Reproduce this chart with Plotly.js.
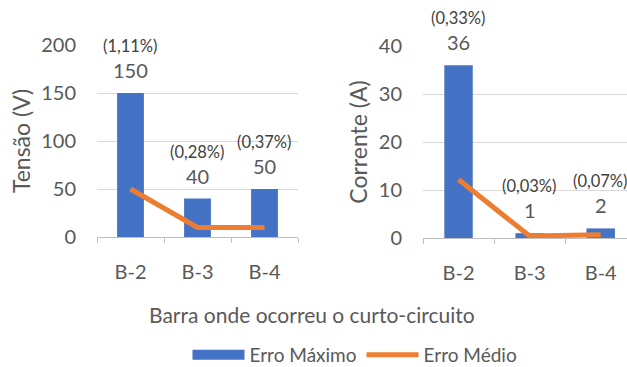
<!DOCTYPE html>
<html><head><meta charset="utf-8">
<script src="https://cdn.plot.ly/plotly-3.0.1.min.js"></script>
<style>html,body{margin:0;padding:0;background:#fff}#c{width:627px;height:367px}</style>
</head><body><div id="c"></div>
<script>
const categories = ['B-2', 'B-3', 'B-4'];
const tensaoMax = [150, 40, 50];
const tensaoMed = [50, 10, 10];
const tensaoPct = ['(1,11%)', '(0,28%)', '(0,37%)'];
const correnteMax = [36, 1, 2];
const correnteMed = [12.2, 0.4, 0.7];
const correntePct = ['(0,33%)', '(0,03%)', '(0,07%)'];
const seriesNames = ['Erro Máximo', 'Erro Médio'];

const BLUE = '#4472C4', ORANGE = '#ED7D31', GRAY = '#595959', GRID = '#D9D9D9';
const FONT = 'Lato, "Open Sans", sans-serif';

const traces = [
  {type:'bar', x:categories, y:tensaoMax, name:seriesNames[0], marker:{color:BLUE}, xaxis:'x', yaxis:'y', showlegend:false, hoverinfo:'skip'},
  {type:'scatter', mode:'lines', x:categories, y:tensaoMed, name:seriesNames[1], line:{color:ORANGE, width:5}, xaxis:'x', yaxis:'y', showlegend:false, hoverinfo:'skip'},
  {type:'bar', x:categories, y:correnteMax, name:seriesNames[0], marker:{color:BLUE}, xaxis:'x2', yaxis:'y2', showlegend:false, hoverinfo:'skip'},
  {type:'scatter', mode:'lines', x:categories, y:correnteMed, name:seriesNames[1], line:{color:ORANGE, width:5}, xaxis:'x2', yaxis:'y2', showlegend:false, hoverinfo:'skip'},
  // legend entries (wide swatches like the reference)
  {type:'scatter', mode:'lines', x:[null], y:[null], name:seriesNames[0], line:{color:BLUE, width:12}, xaxis:'x', yaxis:'y', hoverinfo:'skip'},
  {type:'scatter', mode:'lines', x:[null], y:[null], name:seriesNames[1], line:{color:ORANGE, width:5}, xaxis:'x', yaxis:'y', hoverinfo:'skip'}
];

const annotations = [];
function addLabels(vals, pcts, xref, yref) {
  vals.forEach((v, i) => {
    annotations.push({x:categories[i], y:v, xref:xref, yref:yref, text:String(v), showarrow:false,
      yanchor:'middle', yshift:23, font:{family:FONT, size:20, color:GRAY}});
    annotations.push({x:categories[i], y:v, xref:xref, yref:yref, text:pcts[i], showarrow:false,
      yanchor:'middle', yshift:47, font:{family:FONT, size:16.5, color:'#404040'}});
  });
}
addLabels(tensaoMax, tensaoPct, 'x', 'y');
addLabels(correnteMax, correntePct, 'x2', 'y2');
annotations.push({xref:'paper', yref:'paper', x:312/627, y:(367-314)/367, text:'Barra onde ocorreu o curto-circuito',
  showarrow:false, xanchor:'center', yanchor:'middle', font:{family:FONT, size:21, color:GRAY}});

const xax = {type:'category', showline:true, linecolor:'#BFBFBF', linewidth:1, ticks:'outside', tickson:'boundaries',
  ticklen:5, tickcolor:'#BFBFBF', showgrid:false, tickfont:{family:FONT, size:20, color:GRAY}, ticklabelstandoff:17,
  automargin:false, fixedrange:true};
const yax = {showline:false, showgrid:true, gridcolor:GRID, gridwidth:1, zeroline:false, ticks:'',
  tickfont:{family:FONT, size:20, color:GRAY}, ticklabelstandoff:20, automargin:false, fixedrange:true};

const layout = {
  width:627, height:367, margin:{l:0, r:0, t:0, b:0, autoexpand:false}, paper_bgcolor:'#fff', plot_bgcolor:'#fff',
  bargap:0.6, showlegend:true,
  font:{family:FONT, color:GRAY},
  xaxis:Object.assign({}, xax, {domain:[97/627, 298/627], range:[-0.5, 2.5], anchor:'y'}),
  yaxis:Object.assign({}, yax, {domain:[(367-237)/367, (367-45)/367], range:[0, 200], tickvals:[0,50,100,150,200], anchor:'x',
    title:{text:'Tensão (V)', font:{family:FONT, size:23, color:GRAY}, standoff:4}}),
  xaxis2:Object.assign({}, xax, {domain:[423/627, 1], range:[-0.5, 2.37], anchor:'y2'}),
  yaxis2:Object.assign({}, yax, {domain:[(367-238)/367, (367-46)/367], range:[0, 40], tickvals:[0,10,20,30,40], anchor:'x2',
    title:{text:'Corrente (A)', font:{family:FONT, size:23, color:GRAY}, standoff:4}}),
  legend:{orientation:'h', x:355/627, xanchor:'center', y:(367-355)/367, yanchor:'middle', font:{family:FONT, size:19, color:GRAY},
    itemwidth:52, tracegroupgap:0},
  annotations:annotations
};
Plotly.newPlot('c', traces, layout, {staticPlot:true, displayModeBar:false});
</script></body></html>
